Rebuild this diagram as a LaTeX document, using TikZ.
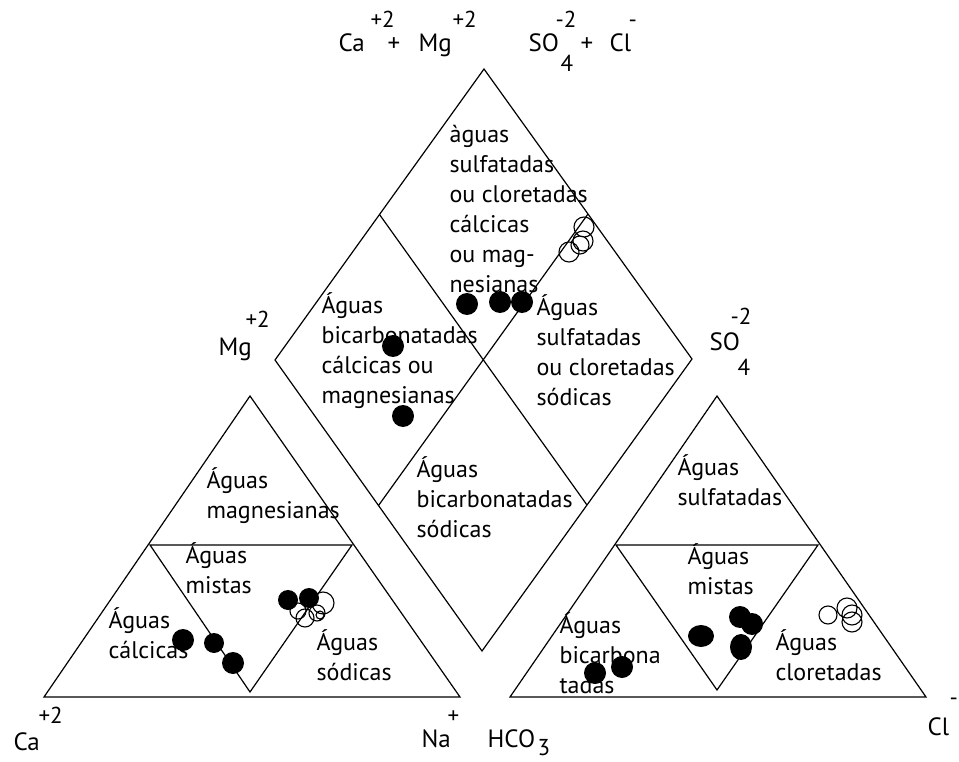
\documentclass[tikz,border=0pt]{standalone}
\usepackage{fontspec}
\setmainfont{PT Sans}
\usetikzlibrary{calc}

\tikzset{
  region/.style={anchor=base west,align=left,inner sep=0pt,
    font=\fontsize{24}{30}\selectfont},
  ion/.style={anchor=base west,inner sep=0pt,font=\fontsize{25}{28}\selectfont},
  charge/.style={anchor=base west,inner sep=0pt,font=\fontsize{23}{26}\selectfont},
  full/.style={fill=black},
  hollow/.style={draw=black,line width=1.1pt},
}

\begin{document}
\begin{tikzpicture}[x=1pt,y=-1pt,line width=1.2pt]
  \useasboundingbox (0,0) rectangle (959,762);
  % cation triangle
  \coordinate (Ca) at (44,697);
  \coordinate (Mg) at (250,396);
  \coordinate (Na) at (460,697);
  \coordinate (cl) at (150,545);
  \coordinate (cr) at (352,545);
  \coordinate (cb) at (250,692);
  \draw (Ca)--(Mg)--(Na)--cycle;
  \draw (cl)--(cr)--(cb)--cycle;
  % anion triangle
  \coordinate (HCO) at (510,697);
  \coordinate (SO) at (717,396);
  \coordinate (Cl) at (926,697);
  \coordinate (al) at (616,545);
  \coordinate (ar) at (818,545);
  \coordinate (ab) at (717,690);
  \draw (HCO)--(SO)--(Cl)--cycle;
  \draw (al)--(ar)--(ab)--cycle;
  % diamond
  \coordinate (T) at (484,69);
  \coordinate (L) at (275,360);
  \coordinate (B) at (482,651);
  \coordinate (R) at (692,359);
  \draw (T)--(L)--(B)--(R)--cycle;
  \draw ($(T)!0.5!(L)$)--($(R)!0.5!(B)$);
  \draw ($(T)!0.5!(R)$)--($(L)!0.5!(B)$);

  % labels of the diamond (placed by the baseline of their last line)
  \node[region] (dtop) at (449,292) {àguas\\sulfatadas\\ou cloretadas\\cálcicas\\ou mag-\\nesianas};
  \node[region] (dleft) at (321,403) {Águas\\bicarbonatadas\\cálcicas ou\\magnesianas};
  \node[region] (dright) at (536,405) {Águas\\sulfatadas\\ou cloretadas\\sódicas};
  \node[region] (dbot) at (416,537) {Águas\\bicarbonatadas\\sódicas};
  % labels of the cation triangle
  \node[region] (cmag) at (206,518) {Águas\\magnesianas};
  \node[region] (cmix) at (185,593) {Águas\\mistas};
  \node[region] (ccal) at (108,658) {Águas\\cálcicas};
  \node[region] (csod) at (316,680) {Águas\\sódicas};
  % labels of the anion triangle
  \node[region] (asul) at (677,505) {Águas\\sulfatadas};
  \node[region] (amix) at (687,594) {Águas\\mistas};
  \node[region] (abic) at (559,693) {Águas\\bicarbona\\tadas};
  \node[region] (aclo) at (775,680) {Águas\\cloretadas};

  % ions
  \node[ion] (tCa) at (338,52) {Ca};
  \node[charge] (tCaq) at (370,28) {+2};
  \node[ion] (tplus) at (387,52) {+};
  \node[ion] (tMg) at (418,52) {Mg};
  \node[charge] (tMgq) at (452,28) {+2};
  \node[ion] (tSO) at (528,52) {SO};
  \node[charge] (tSOq) at (555,28) {-2};
  \node[charge] (tSOi) at (560,72) {4};
  \node[ion] (tplusb) at (580,52) {+};
  \node[ion] (tCl) at (609,52) {Cl};
  \node[charge] (tClq) at (628,28) {-};
  \node[ion] (lMg) at (218,355) {Mg};
  \node[charge] (lMgq) at (245,327) {+2};
  \node[ion] (rSO) at (709,350) {SO};
  \node[charge] (rSOq) at (730,324) {-2};
  \node[charge] (rSOi) at (737,375) {4};
  \node[ion] (bCa) at (13,750) {Ca};
  \node[charge] (bCaq) at (38,723) {+2};
  \node[ion] (bNa) at (421,747) {Na};
  \node[charge] (bNaq) at (447,723) {+};
  \node[ion] (bHCO) at (487,747) {HCO};
  \node[charge] (bHCOi) at (537,755) {3};
  \node[ion] (bCl) at (927,735) {Cl};
  \node[charge] (bClq) at (949,705) {-};

  % samples in the diamond
  \fill[full] (467,304) circle (11) (500,302) circle (11) (522,302) circle (11);
  \fill[full] (393,346) circle (11) (403,416) circle (11);
  \draw[hollow] (584,227) circle (10) (583,241) circle (10) (580,245) circle (9) (569,252) circle (10);
  % samples in the cation triangle
  \fill[full] (183,640) circle (11) (214,643) circle (10) (233,663) circle (11);
  \draw[hollow] (323,603) circle (11) (317,613) circle (8) (320,615) circle (4)
    (305,618) circle (9) (298,611) circle (8);
  \fill[full] (288,600) circle (10) (309,598) circle (10);
  % samples in the anion triangle
  \fill[full] (595,673) circle (11) (622,667) circle (11) (701,636) ellipse (13 and 11);
  \fill[full] (740,617) circle (11) (752,624) circle (11) (741,647) ellipse (11 and 13);
  \draw[hollow] (828,615) circle (9) (847,608) circle (10) (852,615) circle (10) (852,622) circle (10);
\end{tikzpicture}
\end{document}
